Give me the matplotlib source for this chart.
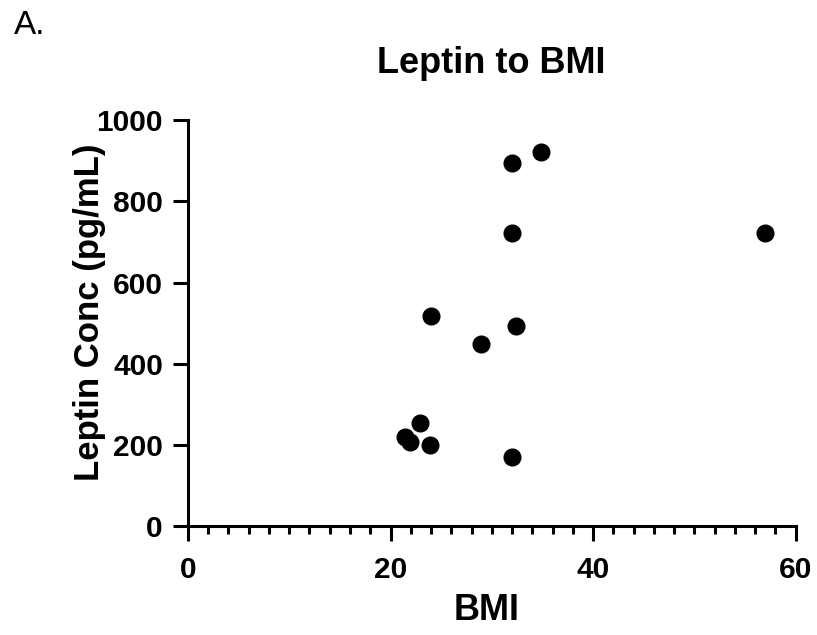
import matplotlib
matplotlib.use("Agg")
import matplotlib.pyplot as plt
from matplotlib.ticker import MultipleLocator

# values
bmi = [24.0, 28.9, 32.4, 32.0, 34.9, 32.0, 57.0, 21.4, 21.9, 22.9, 23.9, 32.0]
leptin = [518, 450, 493, 893, 921, 721, 723, 221, 207, 254, 200, 172]

x_ticks = [0, 20, 40, 60]
y_ticks = [0, 200, 400, 600, 800, 1000]

plt.rcParams['font.family'] = ['Liberation Sans', 'DejaVu Sans']

fig = plt.figure(figsize=(8.17, 6.35), dpi=100)
ax = fig.add_axes([0.230, 0.171, 0.744, 0.640])

ax.plot(bmi, leptin, 'o', color='black', markersize=12, clip_on=False)

ax.set_xlim(0, 60)
ax.set_ylim(0, 1000)
ax.set_xticks(x_ticks)
ax.set_yticks(y_ticks)
ax.xaxis.set_minor_locator(MultipleLocator(2))

for side in ['top', 'right']:
    ax.spines[side].set_visible(False)
for side in ['left', 'bottom']:
    ax.spines[side].set_linewidth(2.2)
    ax.spines[side].set_capstyle('projecting')

ax.tick_params(which='major', direction='out', length=11, width=2.2, labelsize=21.5, pad=7)
ax.tick_params(axis='x', which='major', pad=10)
ax.tick_params(axis='x', which='minor', direction='out', length=6, width=2.2)
for lab in ax.get_xticklabels() + ax.get_yticklabels():
    lab.set_fontweight('bold')

ax.set_xlabel('BMI', fontsize=26, fontweight='bold')
ax.set_ylabel('Leptin Conc (pg/mL)', fontsize=25, fontweight='bold')
ax.xaxis.set_label_coords(0.492, -0.165)
ax.yaxis.set_label_coords(-0.135, 0.526)

fig.text(0.601, 0.885, 'Leptin to BMI', fontsize=26, fontweight='bold', ha='center', va='baseline')
fig.text(0.017, 0.946, 'A.', fontsize=24, ha='left', va='baseline')

fig.savefig('out.png', dpi=100)
